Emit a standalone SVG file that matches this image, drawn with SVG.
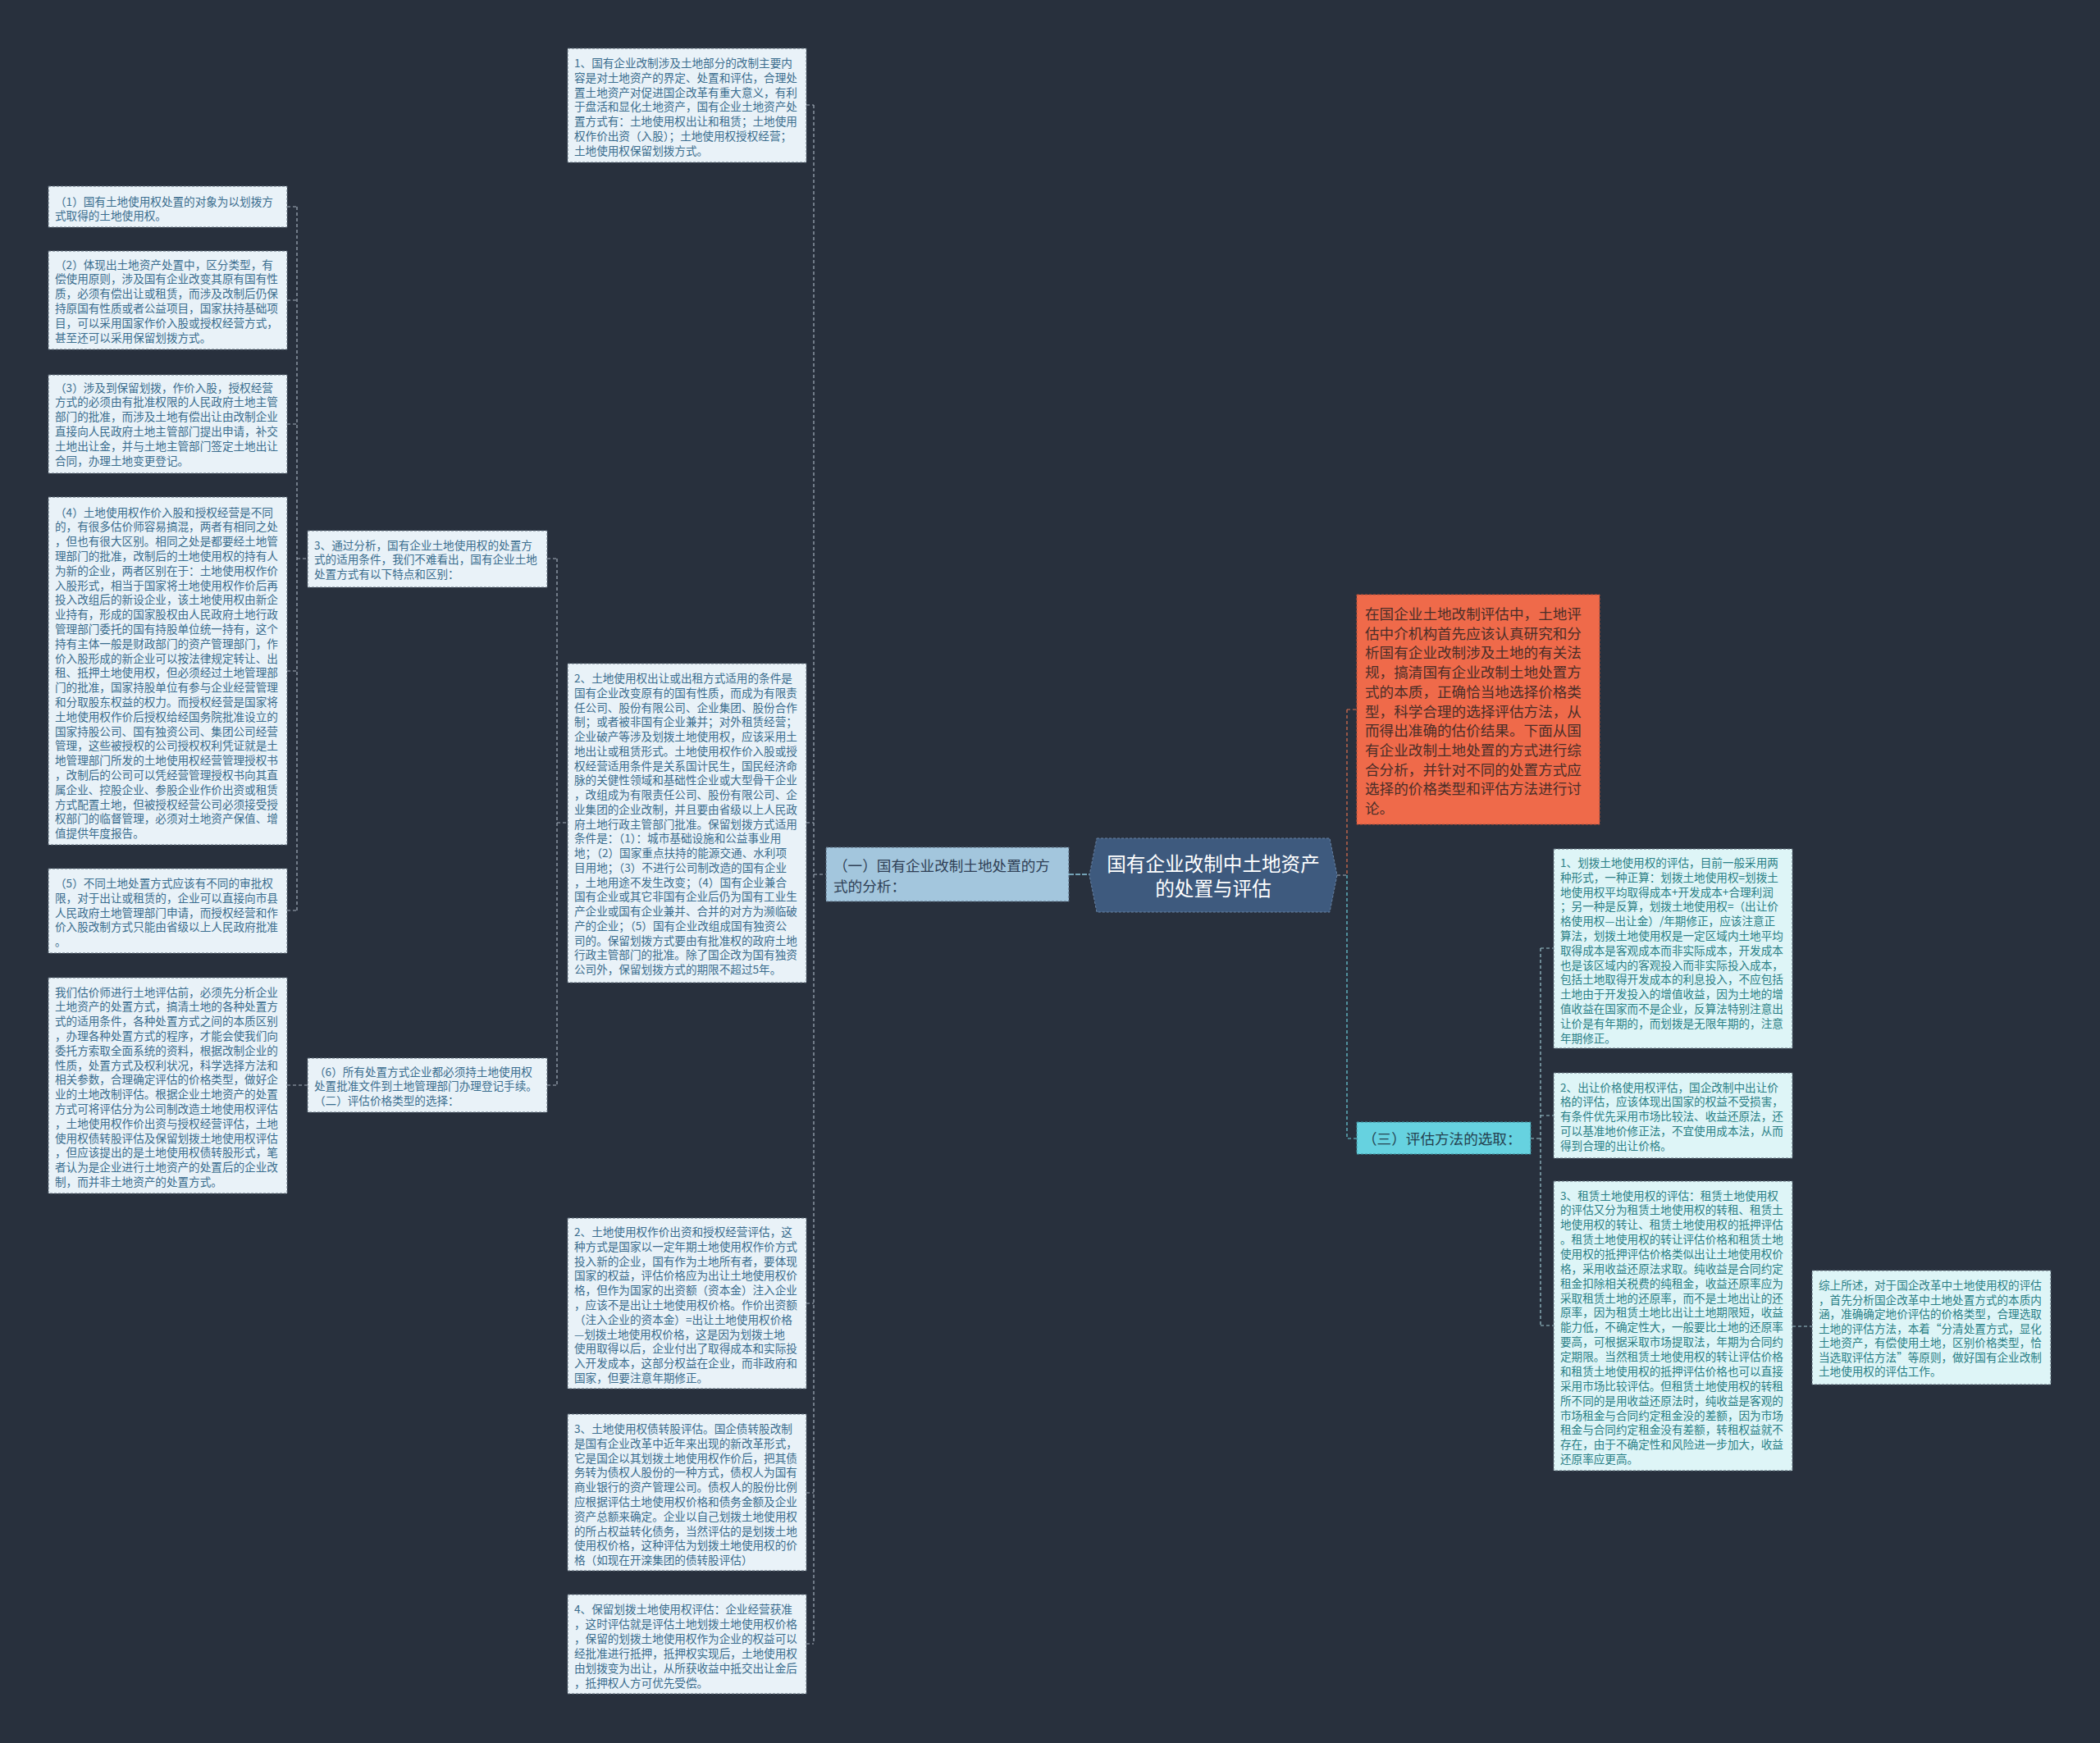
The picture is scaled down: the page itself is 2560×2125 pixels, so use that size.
<svg xmlns="http://www.w3.org/2000/svg" width="2560" height="2125" viewBox="0 0 2560 2125">
<style>
.t{font-family:"Noto Sans CJK SC","Noto Sans",sans-serif;font-size:13.6px}
.lt{fill:#3a6d8e}
.rt{fill:#2a7f86}
.lb{fill:#e9f2f8;stroke:#5d6a78;stroke-width:1;stroke-dasharray:3 2}
.rb{fill:#def5f7;stroke:#5d6a78;stroke-width:1;stroke-dasharray:3 2}
.c{fill:none;stroke:#a3aebb;stroke-width:1.2;stroke-dasharray:4 3}
.co{fill:none;stroke:#e0704f;stroke-width:1.2;stroke-dasharray:4 3}
.cc{fill:none;stroke:#6ccfdd;stroke-width:1.2;stroke-dasharray:4 3}
.cr{fill:none;stroke:#9cc5cf;stroke-width:1.2;stroke-dasharray:4 3}
</style>
<rect x="0" y="0" width="2560" height="2125" fill="#28303d"/>

<g id="connectors">
  <!-- left spine of (一) -->
  <path class="c" d="M992,128 V2004 M983,128 H992 M983,1003 H992 M983,1589 H992 M983,1820 H992 M983,2004 H992 M992,1066 H1007"/>
  <path d="M1303,1066 H1328" fill="none" stroke="#8fc9e0" stroke-width="1.5" stroke-dasharray="6 2"/>
  <!-- node 2 spine -->
  <path class="c" d="M679,681 V1323 M667,681 H679 M667,1323 H679 M679,1003 H692"/>
  <!-- node 3 spine -->
  <path class="c" d="M362,252 V1110 M350,252 H362 M350,366 H362 M350,517 H362 M350,818 H362 M350,1110 H362 M362,681 H375"/>
  <path class="c" d="M350,1323 H375"/>
  <!-- right side -->
  <path class="co" d="M1642,865 V1067 M1642,865 H1654"/>
  <path class="c" d="M1630,1067 H1642"/>
  <path class="cc" d="M1642,1067 V1388 H1654"/>
  <path class="cr" d="M1866,1388 H1878 M1878,1156 V1616 M1878,1156 H1894 M1878,1360 H1894 M1878,1616 H1894"/>
  <path class="cr" d="M2185,1617 H2209"/>
</g>

<g id="center">
  <polygon points="1337,1022 1621,1022 1630,1067 1621,1112 1337,1112 1328,1067" fill="#3e5a7e" stroke="#6682a4" stroke-width="1" stroke-dasharray="3 2"/>
  <text x="1479" y="1062" text-anchor="middle" font-family="Noto Sans CJK SC, sans-serif" font-size="23.6" fill="#ffffff">国有企业改制中土地资产</text>
  <text x="1479" y="1092" text-anchor="middle" font-family="Noto Sans CJK SC, sans-serif" font-size="23.6" fill="#ffffff">的处置与评估</text>
</g>

<g id="branch1">
  <rect x="1007" y="1033" width="296" height="66" fill="#a3c6dd" stroke="#56697c" stroke-width="1" stroke-dasharray="3 2"/>
  <text font-family="Noto Sans CJK SC, sans-serif" font-size="17.6" fill="#2f3f55"><tspan x="1016" y="1061.5">（一）国有企业改制土地处置的方</tspan><tspan x="1016" y="1086.5">式的分析：</tspan></text>
</g>

<g id="branch3">
  <rect x="1654" y="1368" width="212" height="39" fill="#66d2e0" stroke="#3f8f9c" stroke-width="1" stroke-dasharray="3 2"/>
  <text x="1661" y="1394.5" font-family="Noto Sans CJK SC, sans-serif" font-size="17.6" fill="#24414f">（三）评估方法的选取：</text>
</g>

<g id="intro">
  <rect x="1654" y="725" width="296" height="280" fill="#ef6a4a" stroke="#b9513a" stroke-width="1" stroke-dasharray="3 2"/>
  <text font-family="Noto Sans CJK SC, sans-serif" font-size="17.6" fill="#4a2e28">
    <tspan x="1664" y="755">在国企业土地改制评估中，土地评</tspan>
    <tspan x="1664" dy="23.7">估中介机构首先应该认真研究和分</tspan>
    <tspan x="1664" dy="23.7">析国有企业改制涉及土地的有关法</tspan>
    <tspan x="1664" dy="23.7">规，搞清国有企业改制土地处置方</tspan>
    <tspan x="1664" dy="23.7">式的本质，正确恰当地选择价格类</tspan>
    <tspan x="1664" dy="23.7">型，科学合理的选择评估方法，从</tspan>
    <tspan x="1664" dy="23.7">而得出准确的估价结果。下面从国</tspan>
    <tspan x="1664" dy="23.7">有企业改制土地处置的方式进行综</tspan>
    <tspan x="1664" dy="23.7">合分析，并针对不同的处置方式应</tspan>
    <tspan x="1664" dy="23.7">选择的价格类型和评估方法进行讨</tspan>
    <tspan x="1664" dy="23.7">论。</tspan>
  </text>
</g>

<g id="n1">
  <rect class="lb" x="692" y="59" width="291" height="139"/>
  <text class="t lt">
    <tspan x="700" y="82">1、国有企业改制涉及土地部分的改制主要内</tspan>
    <tspan x="700" dy="17.8">容是对土地资产的界定、处置和评估，合理处</tspan>
    <tspan x="700" dy="17.8">置土地资产对促进国企改革有重大意义，有利</tspan>
    <tspan x="700" dy="17.8">于盘活和显化土地资产，国有企业土地资产处</tspan>
    <tspan x="700" dy="17.8">置方式有：土地使用权出让和租赁；土地使用</tspan>
    <tspan x="700" dy="17.8">权作价出资（入股）；土地使用权授权经营；</tspan>
    <tspan x="700" dy="17.8">土地使用权保留划拨方式。</tspan>
  </text>
</g>

<g id="n2">
  <rect class="lb" x="692" y="809" width="291" height="389"/>
  <text class="t lt">
    <tspan x="700" y="832">2、土地使用权出让或出租方式适用的条件是</tspan>
    <tspan x="700" dy="17.75">国有企业改变原有的国有性质，而成为有限责</tspan>
    <tspan x="700" dy="17.75">任公司、股份有限公司、企业集团、股份合作</tspan>
    <tspan x="700" dy="17.75">制；或者被非国有企业兼并；对外租赁经营；</tspan>
    <tspan x="700" dy="17.75">企业破产等涉及划拨土地使用权，应该采用土</tspan>
    <tspan x="700" dy="17.75">地出让或租赁形式。土地使用权作价入股或授</tspan>
    <tspan x="700" dy="17.75">权经营适用条件是关系国计民生，国民经济命</tspan>
    <tspan x="700" dy="17.75">脉的关健性领域和基础性企业或大型骨干企业</tspan>
    <tspan x="700" dy="17.75">，改组成为有限责任公司、股份有限公司、企</tspan>
    <tspan x="700" dy="17.75">业集团的企业改制，并且要由省级以上人民政</tspan>
    <tspan x="700" dy="17.75">府土地行政主管部门批准。保留划拨方式适用</tspan>
    <tspan x="700" dy="17.75">条件是：（1）：城市基础设施和公益事业用</tspan>
    <tspan x="700" dy="17.75">地；（2）国家重点扶持的能源交通、水利项</tspan>
    <tspan x="700" dy="17.75">目用地；（3）不进行公司制改造的国有企业</tspan>
    <tspan x="700" dy="17.75">，土地用途不发生改变；（4）国有企业兼合</tspan>
    <tspan x="700" dy="17.75">国有企业或其它非国有企业后仍为国有工业生</tspan>
    <tspan x="700" dy="17.75">产企业或国有企业兼并、合并的对方为濒临破</tspan>
    <tspan x="700" dy="17.75">产的企业；（5）国有企业改组成国有独资公</tspan>
    <tspan x="700" dy="17.75">司的。保留划拨方式要由有批准权的政府土地</tspan>
    <tspan x="700" dy="17.75">行政主管部门的批准。除了国企改为国有独资</tspan>
    <tspan x="700" dy="17.75">公司外，保留划拨方式的期限不超过5年。</tspan>
  </text>
</g>

<g id="n3">
  <rect class="lb" x="375" y="647" width="292" height="69"/>
  <text class="t lt">
    <tspan x="383" y="669.5">3、通过分析，国有企业土地使用权的处置方</tspan>
    <tspan x="383" dy="17.8">式的适用条件，我们不难看出，国有企业土地</tspan>
    <tspan x="383" dy="17.8">处置方式有以下特点和区别：</tspan>
  </text>
</g>

<g id="n6">
  <rect class="lb" x="375" y="1290" width="292" height="66"/>
  <text class="t lt">
    <tspan x="383" y="1311.5">（6）所有处置方式企业都必须持土地使用权</tspan>
    <tspan x="383" dy="17.8">处置批准文件到土地管理部门办理登记手续。</tspan>
    <tspan x="383" dy="17.8">（二）评估价格类型的选择：</tspan>
  </text>
</g>

<g id="l1">
  <rect class="lb" x="59" y="227" width="291" height="50"/>
  <text class="t lt">
    <tspan x="67" y="250.5">（1）国有土地使用权处置的对象为以划拨方</tspan>
    <tspan x="67" dy="17.8">式取得的土地使用权。</tspan>
  </text>
</g>

<g id="l2">
  <rect class="lb" x="59" y="306" width="291" height="120"/>
  <text class="t lt">
    <tspan x="67" y="327.5">（2）体现出土地资产处置中，区分类型，有</tspan>
    <tspan x="67" dy="17.8">偿使用原则，涉及国有企业改变其原有国有性</tspan>
    <tspan x="67" dy="17.8">质，必须有偿出让或租赁，而涉及改制后仍保</tspan>
    <tspan x="67" dy="17.8">持原国有性质或者公益项目，国家扶持基础项</tspan>
    <tspan x="67" dy="17.8">目，可以采用国家作价入股或授权经营方式，</tspan>
    <tspan x="67" dy="17.8">甚至还可以采用保留划拨方式。</tspan>
  </text>
</g>

<g id="l3">
  <rect class="lb" x="59" y="457" width="291" height="120"/>
  <text class="t lt">
    <tspan x="67" y="477.5">（3）涉及到保留划拨，作价入股，授权经营</tspan>
    <tspan x="67" dy="17.8">方式的必须由有批准权限的人民政府土地主管</tspan>
    <tspan x="67" dy="17.8">部门的批准，而涉及土地有偿出让由改制企业</tspan>
    <tspan x="67" dy="17.8">直接向人民政府土地主管部门提出申请，补交</tspan>
    <tspan x="67" dy="17.8">土地出让金，并与土地主管部门签定土地出让</tspan>
    <tspan x="67" dy="17.8">合同，办理土地变更登记。</tspan>
  </text>
</g>

<g id="l4">
  <rect class="lb" x="59" y="606" width="291" height="424"/>
  <text class="t lt">
    <tspan x="67" y="629.5">（4）土地使用权作价入股和授权经营是不同</tspan>
    <tspan x="67" dy="17.8">的，有很多估价师容易搞混，两者有相同之处</tspan>
    <tspan x="67" dy="17.8">，但也有很大区别。相同之处是都要经土地管</tspan>
    <tspan x="67" dy="17.8">理部门的批准，改制后的土地使用权的持有人</tspan>
    <tspan x="67" dy="17.8">为新的企业，两者区别在于：土地使用权作价</tspan>
    <tspan x="67" dy="17.8">入股形式，相当于国家将土地使用权作价后再</tspan>
    <tspan x="67" dy="17.8">投入改组后的新设企业，该土地使用权由新企</tspan>
    <tspan x="67" dy="17.8">业持有，形成的国家股权由人民政府土地行政</tspan>
    <tspan x="67" dy="17.8">管理部门委托的国有持股单位统一持有，这个</tspan>
    <tspan x="67" dy="17.8">持有主体一般是财政部门的资产管理部门，作</tspan>
    <tspan x="67" dy="17.8">价入股形成的新企业可以按法律规定转让、出</tspan>
    <tspan x="67" dy="17.8">租、抵押土地使用权，但必须经过土地管理部</tspan>
    <tspan x="67" dy="17.8">门的批准，国家持股单位有参与企业经营管理</tspan>
    <tspan x="67" dy="17.8">和分取股东权益的权力。而授权经营是国家将</tspan>
    <tspan x="67" dy="17.8">土地使用权作价后授权给经国务院批准设立的</tspan>
    <tspan x="67" dy="17.8">国家持股公司、国有独资公司、集团公司经营</tspan>
    <tspan x="67" dy="17.8">管理，这些被授权的公司授权权利凭证就是土</tspan>
    <tspan x="67" dy="17.8">地管理部门所发的土地使用权经营管理授权书</tspan>
    <tspan x="67" dy="17.8">，改制后的公司可以凭经营管理授权书向其直</tspan>
    <tspan x="67" dy="17.8">属企业、控股企业、参股企业作价出资或租赁</tspan>
    <tspan x="67" dy="17.8">方式配置土地，但被授权经营公司必须接受授</tspan>
    <tspan x="67" dy="17.8">权部门的临督管理，必须对土地资产保值、增</tspan>
    <tspan x="67" dy="17.8">值提供年度报告。</tspan>
  </text>
</g>

<g id="l5">
  <rect class="lb" x="59" y="1059" width="291" height="103"/>
  <text class="t lt">
    <tspan x="67" y="1082">（5）不同土地处置方式应该有不同的审批权</tspan>
    <tspan x="67" dy="17.8">限，对于出让或租赁的，企业可以直接向市县</tspan>
    <tspan x="67" dy="17.8">人民政府土地管理部门申请，而授权经营和作</tspan>
    <tspan x="67" dy="17.8">价入股改制方式只能由省级以上人民政府批准</tspan>
    <tspan x="67" dy="17.8">。</tspan>
  </text>
</g>

<g id="l6">
  <rect class="lb" x="59" y="1192" width="291" height="263"/>
  <text class="t lt">
    <tspan x="67" y="1214.5">我们估价师进行土地评估前，必须先分析企业</tspan>
    <tspan x="67" dy="17.8">土地资产的处置方式，搞清土地的各种处置方</tspan>
    <tspan x="67" dy="17.8">式的适用条件，各种处置方式之间的本质区别</tspan>
    <tspan x="67" dy="17.8">，办理各种处置方式的程序，才能会使我们向</tspan>
    <tspan x="67" dy="17.8">委托方索取全面系统的资料，根据改制企业的</tspan>
    <tspan x="67" dy="17.8">性质，处置方式及权利状况，科学选择方法和</tspan>
    <tspan x="67" dy="17.8">相关参数，合理确定评估的价格类型，做好企</tspan>
    <tspan x="67" dy="17.8">业的土地改制评估。根据企业土地资产的处置</tspan>
    <tspan x="67" dy="17.8">方式可将评估分为公司制改造土地使用权评估</tspan>
    <tspan x="67" dy="17.8">，土地使用权作价出资与授权经营评估，土地</tspan>
    <tspan x="67" dy="17.8">使用权债转股评估及保留划拨土地使用权评估</tspan>
    <tspan x="67" dy="17.8">，但应该提出的是土地使用权债转股形式，笔</tspan>
    <tspan x="67" dy="17.8">者认为是企业进行土地资产的处置后的企业改</tspan>
    <tspan x="67" dy="17.8">制，而并非土地资产的处置方式。</tspan>
  </text>
</g>

<g id="m2">
  <rect class="lb" x="692" y="1485" width="291" height="208"/>
  <text class="t lt">
    <tspan x="700" y="1507">2、土地使用权作价出资和授权经营评估，这</tspan>
    <tspan x="700" dy="17.8">种方式是国家以一定年期土地使用权作价方式</tspan>
    <tspan x="700" dy="17.8">投入新的企业，国有作为土地所有者，要体现</tspan>
    <tspan x="700" dy="17.8">国家的权益，评估价格应为出让土地使用权价</tspan>
    <tspan x="700" dy="17.8">格，但作为国家的出资额（资本金）注入企业</tspan>
    <tspan x="700" dy="17.8">，应该不是出让土地使用权价格。作价出资额</tspan>
    <tspan x="700" dy="17.8">（注入企业的资本金）=出让土地使用权价格</tspan>
    <tspan x="700" dy="17.8">—划拨土地使用权价格，这是因为划拨土地</tspan>
    <tspan x="700" dy="17.8">使用取得以后，企业付出了取得成本和实际投</tspan>
    <tspan x="700" dy="17.8">入开发成本，这部分权益在企业，而非政府和</tspan>
    <tspan x="700" dy="17.8">国家，但要注意年期修正。</tspan>
  </text>
</g>

<g id="m3">
  <rect class="lb" x="692" y="1724" width="291" height="191"/>
  <text class="t lt">
    <tspan x="700" y="1747">3、土地使用权债转股评估。国企债转股改制</tspan>
    <tspan x="700" dy="17.8">是国有企业改革中近年来出现的新改革形式，</tspan>
    <tspan x="700" dy="17.8">它是国企以其划拨土地使用权作价后，把其债</tspan>
    <tspan x="700" dy="17.8">务转为债权人股份的一种方式，债权人为国有</tspan>
    <tspan x="700" dy="17.8">商业银行的资产管理公司。债权人的股份比例</tspan>
    <tspan x="700" dy="17.8">应根据评估土地使用权价格和债务金额及企业</tspan>
    <tspan x="700" dy="17.8">资产总额来确定。企业以自己划拨土地使用权</tspan>
    <tspan x="700" dy="17.8">的所占权益转化债务，当然评估的是划拨土地</tspan>
    <tspan x="700" dy="17.8">使用权价格，这种评估为划拨土地使用权的价</tspan>
    <tspan x="700" dy="17.8">格（如现在开滦集团的债转股评估）</tspan>
  </text>
</g>

<g id="m4">
  <rect class="lb" x="692" y="1944" width="291" height="121"/>
  <text class="t lt">
    <tspan x="700" y="1967">4、保留划拨土地使用权评估：企业经营获准</tspan>
    <tspan x="700" dy="17.9">，这时评估就是评估土地划拨土地使用权价格</tspan>
    <tspan x="700" dy="17.9">，保留的划拨土地使用权作为企业的权益可以</tspan>
    <tspan x="700" dy="17.9">经批准进行抵押，抵押权实现后，土地使用权</tspan>
    <tspan x="700" dy="17.9">由划拨变为出让，从所获收益中抵交出让金后</tspan>
    <tspan x="700" dy="17.9">，抵押权人方可优先受偿。</tspan>
  </text>
</g>

<g id="r1">
  <rect class="rb" x="1894" y="1035" width="291" height="243"/>
  <text class="t rt">
    <tspan x="1902" y="1057">1、划拨土地使用权的评估，目前一般采用两</tspan>
    <tspan x="1902" dy="17.8">种形式，一种正算：划拨土地使用权=划拨土</tspan>
    <tspan x="1902" dy="17.8">地使用权平均取得成本+开发成本+合理利润</tspan>
    <tspan x="1902" dy="17.8">；另一种是反算，划拨土地使用权=（出让价</tspan>
    <tspan x="1902" dy="17.8">格使用权—出让金）/年期修正，应该注意正</tspan>
    <tspan x="1902" dy="17.8">算法，划拨土地使用权是一定区域内土地平均</tspan>
    <tspan x="1902" dy="17.8">取得成本是客观成本而非实际成本，开发成本</tspan>
    <tspan x="1902" dy="17.8">也是该区域内的客观投入而非实际投入成本，</tspan>
    <tspan x="1902" dy="17.8">包括土地取得开发成本的利息投入，不应包括</tspan>
    <tspan x="1902" dy="17.8">土地由于开发投入的增值收益，因为土地的增</tspan>
    <tspan x="1902" dy="17.8">值收益在国家而不是企业，反算法特别注意出</tspan>
    <tspan x="1902" dy="17.8">让价是有年期的，而划拨是无限年期的，注意</tspan>
    <tspan x="1902" dy="17.8">年期修正。</tspan>
  </text>
</g>

<g id="r2">
  <rect class="rb" x="1894" y="1308" width="291" height="104"/>
  <text class="t rt">
    <tspan x="1902" y="1330.5">2、出让价格使用权评估，国企改制中出让价</tspan>
    <tspan x="1902" dy="17.8">格的评估，应该体现出国家的权益不受损害，</tspan>
    <tspan x="1902" dy="17.8">有条件优先采用市场比较法、收益还原法，还</tspan>
    <tspan x="1902" dy="17.8">可以基准地价修正法，不宜使用成本法，从而</tspan>
    <tspan x="1902" dy="17.8">得到合理的出让价格。</tspan>
  </text>
</g>

<g id="r3">
  <rect class="rb" x="1894" y="1440" width="291" height="353"/>
  <text class="t rt">
    <tspan x="1902" y="1462.5">3、租赁土地使用权的评估：租赁土地使用权</tspan>
    <tspan x="1902" dy="17.87">的评估又分为租赁土地使用权的转租、租赁土</tspan>
    <tspan x="1902" dy="17.87">地使用权的转让、租赁土地使用权的抵押评估</tspan>
    <tspan x="1902" dy="17.87">。租赁土地使用权的转让评估价格和租赁土地</tspan>
    <tspan x="1902" dy="17.87">使用权的抵押评估价格类似出让土地使用权价</tspan>
    <tspan x="1902" dy="17.87">格，采用收益还原法求取。纯收益是合同约定</tspan>
    <tspan x="1902" dy="17.87">租金扣除相关税费的纯租金，收益还原率应为</tspan>
    <tspan x="1902" dy="17.87">采取租赁土地的还原率，而不是土地出让的还</tspan>
    <tspan x="1902" dy="17.87">原率，因为租赁土地比出让土地期限短，收益</tspan>
    <tspan x="1902" dy="17.87">能力低，不确定性大，一般要比土地的还原率</tspan>
    <tspan x="1902" dy="17.87">要高，可根据采取市场提取法，年期为合同约</tspan>
    <tspan x="1902" dy="17.87">定期限。当然租赁土地使用权的转让评估价格</tspan>
    <tspan x="1902" dy="17.87">和租赁土地使用权的抵押评估价格也可以直接</tspan>
    <tspan x="1902" dy="17.87">采用市场比较评估。但租赁土地使用权的转租</tspan>
    <tspan x="1902" dy="17.87">所不同的是用收益还原法时，纯收益是客观的</tspan>
    <tspan x="1902" dy="17.87">市场租金与合同约定租金没的差额，因为市场</tspan>
    <tspan x="1902" dy="17.87">租金与合同约定租金没有差额，转租权益就不</tspan>
    <tspan x="1902" dy="17.87">存在，由于不确定性和风险进一步加大，收益</tspan>
    <tspan x="1902" dy="17.87">还原率应更高。</tspan>
  </text>
</g>

<g id="r4">
  <rect class="rb" x="2209" y="1549" width="291" height="139"/>
  <text class="t rt">
    <tspan x="2217" y="1572">综上所述，对于国企改革中土地使用权的评估</tspan>
    <tspan x="2217" dy="17.5">，首先分析国企改革中土地处置方式的本质内</tspan>
    <tspan x="2217" dy="17.5">涵，准确确定地价评估的价格类型，合理选取</tspan>
    <tspan x="2217" dy="17.5">土地的评估方法，本着“分清处置方式，显化</tspan>
    <tspan x="2217" dy="17.5">土地资产，有偿使用土地，区别价格类型，恰</tspan>
    <tspan x="2217" dy="17.5">当选取评估方法”等原则，做好国有企业改制</tspan>
    <tspan x="2217" dy="17.5">土地使用权的评估工作。</tspan>
  </text>
</g>
</svg>
